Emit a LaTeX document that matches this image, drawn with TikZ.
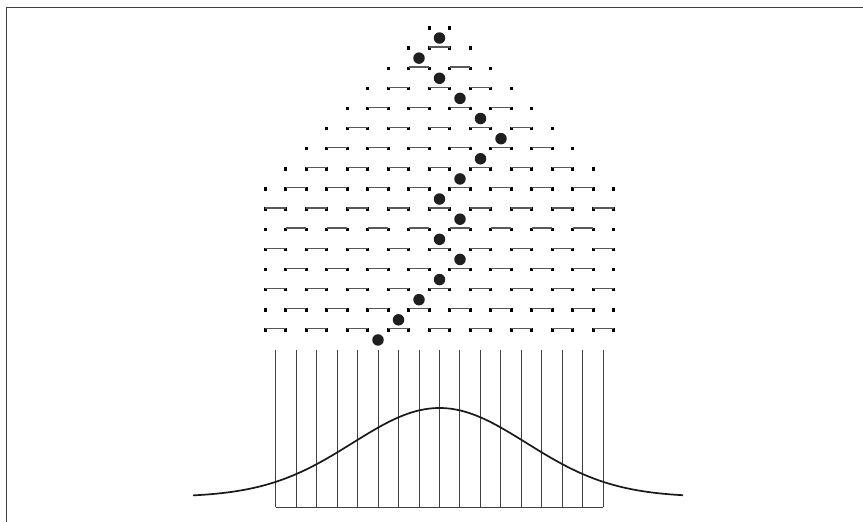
\documentclass[tikz,border=0pt]{standalone}
\begin{document}
\begin{tikzpicture}[x=1pt,y=-1pt,
  peg/.style={fill=black,inner sep=0pt,minimum size=3.4pt},
  bar/.style={line width=1.3pt,black!65},
  ball/.style={circle,fill=black!88,inner sep=0pt,minimum size=11.5pt},
  slot/.style={line width=0.9pt,black!75}]
\useasboundingbox (0,0) rectangle (863,522);
% frame
\draw[line width=1.4pt,black!75] (6.5,522) -- (6.5,7.5) -- (863,7.5);
% pegs and bars
\foreach \k in {1,...,16} {
  \pgfmathtruncatemacro\lo{max(-(\k-1),-8)}
  \pgfmathtruncatemacro\hi{min(\k,9)}
  \foreach \i in {\lo,...,\hi}
    \node[peg] (p\k-\i) at ({439.5+20.5*(\i-0.5)},{28+20.13*(\k-1)}) {};
  \pgfmathtruncatemacro\top{\hi-1}
  \foreach \i in {\lo,...,\top} {
    \pgfmathtruncatemacro\pty{mod(abs(\k-\i),2)}
    \pgfmathtruncatemacro\j{\i+1}
    \ifnum\pty=0
      \draw[bar] ([yshift=-0.7pt]p\k-\i.north) -- ([yshift=-0.7pt]p\k-\j.north);
    \fi
  }
}
% path of the ball
\foreach \m [count=\n] in {0,-1,0,1,2,3,2,1,0,1,0,1,0,-1,-2,-3}
  \node[ball] (b\n) at ({439.5+20.5*\m},{38+20.13*(\n-1)}) {};
% bins
\foreach \j in {0,...,16}
  \draw[slot] ({275.7+20.47*\j},350) -- ({275.7+20.47*\j},507);
\draw[slot] (275.7,507) -- (603.3,507);
% normal curve
\draw[line width=1.7pt,black!90,smooth] plot[domain=193:683,samples=120]
  (\x,{497-89*exp(-0.5*((\x-439.5)/87)^2)});
\end{tikzpicture}
\end{document}
